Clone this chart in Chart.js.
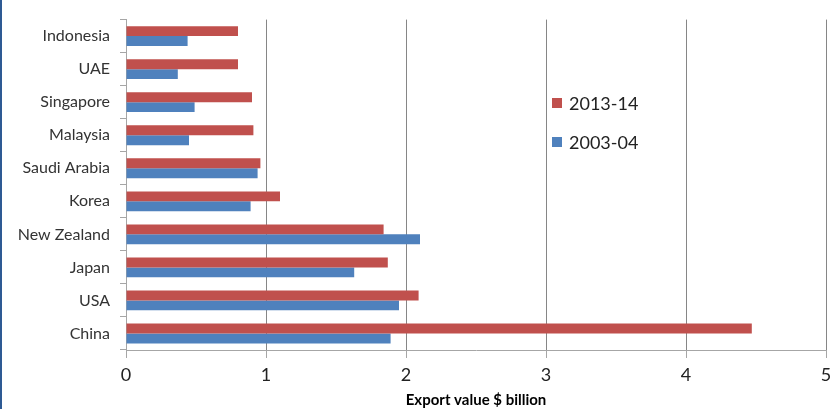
<!DOCTYPE html>
<html>
<head>
<meta charset="utf-8">
<script src="https://cdn.jsdelivr.net/npm/chart.js@4"></script>
<style>
  html, body { margin: 0; padding: 0; background: #ffffff; }
  #wrap { position: relative; width: 839px; height: 409px; }
</style>
</head>
<body>
<div id="wrap"><canvas id="c"></canvas></div>
<script>
const categories = ["Indonesia", "UAE", "Singapore", "Malaysia", "Saudi Arabia", "Korea", "New Zealand", "Japan", "USA", "China"];
const seriesNames = ["2013-14", "2003-04"];
const values2013 = [0.80, 0.80, 0.90, 0.91, 0.96, 1.10, 1.84, 1.87, 2.09, 4.47];
const values2003 = [0.44, 0.37, 0.49, 0.45, 0.94, 0.89, 2.10, 1.63, 1.95, 1.89];
const xTicks = [0, 1, 2, 3, 4, 5];
const axisTitle = "Export value $ billion";

const RED = "#C0504D";
const BLUE = "#4F81BD";
const FONT = "Lato, 'Open Sans', sans-serif";

const frameAndLegend = {
  id: "frameAndLegend",
  beforeDraw(chart) {
    const ctx = chart.ctx;
    ctx.save();
    ctx.fillStyle = "#ffffff";
    ctx.fillRect(0, 0, chart.width, chart.height);
    ctx.fillStyle = "#2E5A94";
    ctx.fillRect(0, 0, 2, chart.height);
    ctx.restore();
  },
  afterDraw(chart) {
    const ctx = chart.ctx;
    const x = chart.scales.x;
    const lx = x.getPixelForValue(3) + 6;
    ctx.save();
    ctx.font = "18px " + FONT;
    ctx.textBaseline = "middle";
    ctx.textAlign = "left";
    chart.data.datasets.forEach((ds, i) => {
      const cy = 103 + i * 39;
      ctx.fillStyle = ds.backgroundColor;
      ctx.fillRect(lx, cy - 5, 10, 10);
      ctx.fillStyle = "#222222";
      ctx.fillText(ds.label, lx + 17, cy + 1);
    });
    ctx.restore();
  }
};

new Chart(document.getElementById("c"), {
  type: "bar",
  data: {
    labels: categories,
    datasets: [
      { label: seriesNames[0], data: values2013, backgroundColor: RED, borderWidth: 0 },
      { label: seriesNames[1], data: values2003, backgroundColor: BLUE, borderWidth: 0 }
    ]
  },
  options: {
    indexAxis: "y",
    responsive: true,
    maintainAspectRatio: false,
    animation: false,
    categoryPercentage: 0.6,
    barPercentage: 1.0,
    layout: { padding: { left: 0, right: 13, top: 4, bottom: 0 } },
    plugins: {
      legend: { display: false },
      tooltip: { enabled: false }
    },
    scales: {
      x: {
        min: xTicks[0],
        max: xTicks[xTicks.length - 1],
        afterBuildTicks(scale) { scale.ticks = xTicks.map(v => ({ value: v })); },
        grid: {
          color: "#868686",
          lineWidth: 1,
          drawTicks: true,
          tickLength: 8,
          tickColor: "#A6A6A6"
        },
        border: { display: true, color: "#A6A6A6", width: 1 },
        ticks: {
          font: { family: FONT, size: 18 },
          color: "#222222",
          padding: 6,
          maxRotation: 0
        },
        title: {
          display: true,
          text: axisTitle,
          font: { family: FONT, size: 15, weight: "bold" },
          color: "#000000",
          padding: { top: 0, bottom: 0 }
        },
        afterFit(scale) { scale.height = 59; }
      },
      y: {
        offset: true,
        grid: {
          offset: true,
          drawOnChartArea: false,
          drawTicks: true,
          tickLength: 6,
          tickColor: "#A6A6A6"
        },
        border: { display: true, color: "#A6A6A6", width: 1 },
        ticks: {
          font: { family: FONT, size: 16 },
          color: "#333333",
          padding: 10
        },
        afterFit(scale) { scale.width = 126; }
      }
    }
  },
  plugins: [frameAndLegend]
});
</script>
</body>
</html>
